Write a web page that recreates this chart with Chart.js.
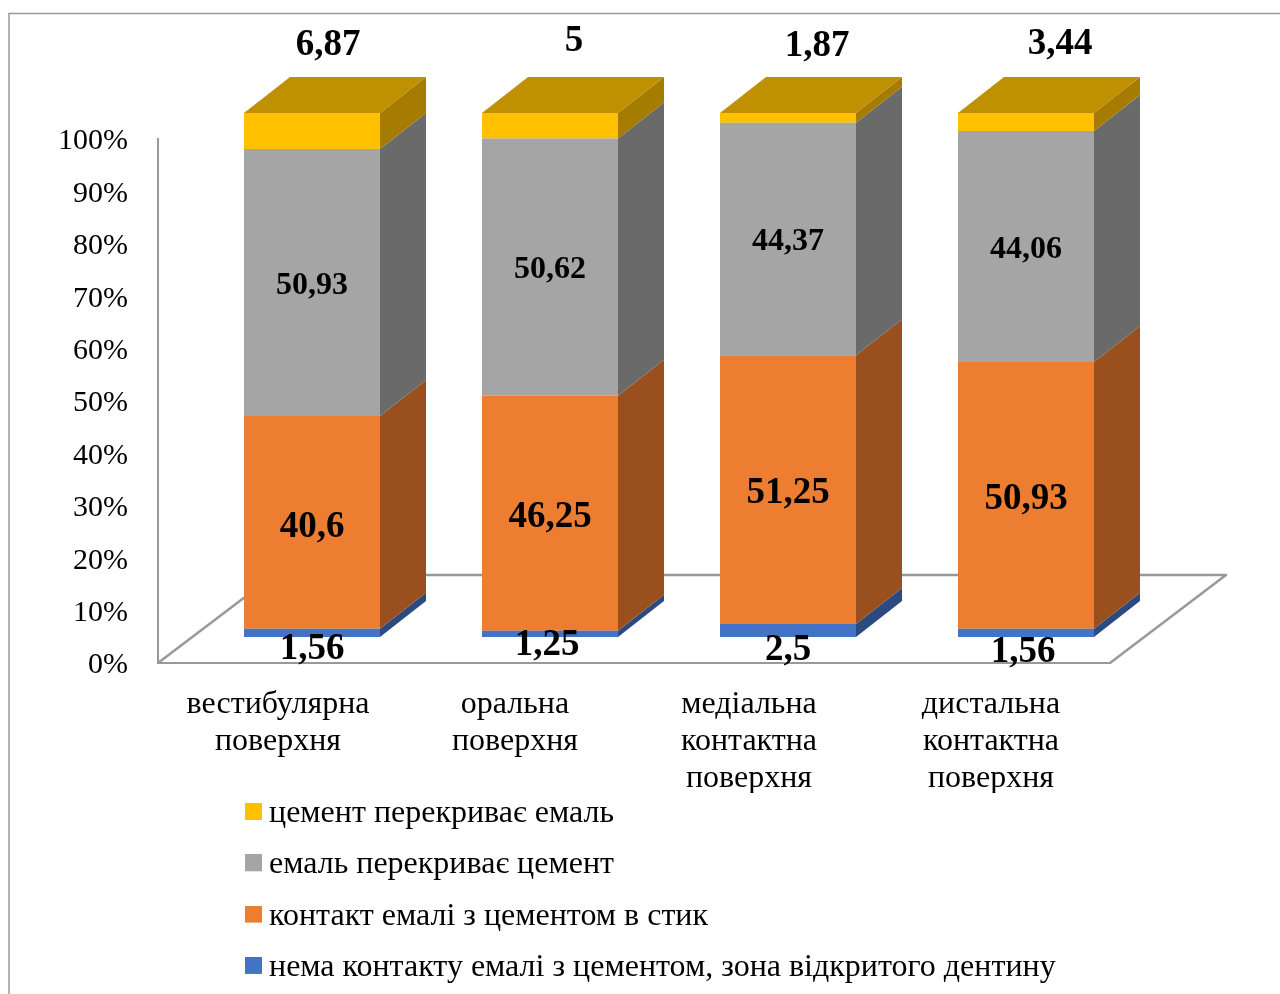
<!DOCTYPE html>
<html lang="uk">
<head>
<meta charset="utf-8">
<title>Chart</title>
<style>html,body{margin:0;padding:0;background:#fff}canvas{display:block}</style>
<script src="https://cdn.jsdelivr.net/npm/chart.js@4/dist/chart.umd.js"></script>
</head>
<body>
<canvas id="c" width="1280" height="994"></canvas>
<script>
const categories = [
  ['вестибулярна', 'поверхня'],
  ['оральна', 'поверхня'],
  ['медіальна', 'контактна', 'поверхня'],
  ['дистальна', 'контактна', 'поверхня']
];
const seriesNames = [
  'нема контакту емалі з цементом, зона відкритого дентину',
  'контакт емалі з цементом в стик',
  'емаль перекриває цемент',
  'цемент перекриває емаль'
];
const noContact = [1.56, 1.25, 2.5, 1.56];
const buttJoint = [40.6, 46.25, 51.25, 50.93];
const enamelOver = [50.93, 50.62, 44.37, 44.06];
const cementOver = [6.87, 5, 1.87, 3.44];
const rawSeries = [noContact, buttJoint, enamelOver, cementOver];

const frontColors = ['#4472C4', '#ED7D31', '#A5A5A5', '#FFC000'];
const sideColors = ['#2A4A80', '#9A501E', '#6A6A6A', '#A67C00'];
const topColor = '#BF9000';
const axisColor = '#999999';
const FONT = '"Liberation Serif", "Times New Roman", serif';

// 3D projection of the picture
const barShift = { x: 35, y: -26 };
const depth = { x: 46, y: -36 };
const floorDepth = { x: 116, y: -88 };
// label offsets from the centre of each segment
const labelSizes = [37, 37, 32, 37];
const labelNudges = [
  [[0, 17], [-3, 12], [0, 20], [-3, 20]],
  [[0, 5], [0, 4], [0, 4], [0, 4]],
  [[0, 3], [0, 3], [0, 3], [0, 3]],
  [[16, -86], [24, -84], [29, -71], [34, -78]]
];
const yLabelDrop = 2.5;
const xLabelShift = [1, 0, -4, 0];

const totals = categories.map((_, i) => rawSeries.reduce((s, a) => s + a[i], 0));
const fmt = v => String(v).replace('.', ',');

function swatch(color) {
  const cv = document.createElement('canvas');
  cv.width = 26; cv.height = 21;
  const g = cv.getContext('2d');
  g.fillStyle = color;
  g.fillRect(9, 0, 17, 17);
  return cv;
}

function poly(ctx, pts, fill) {
  ctx.beginPath();
  pts.forEach((p, i) => i ? ctx.lineTo(p[0], p[1]) : ctx.moveTo(p[0], p[1]));
  ctx.closePath();
  ctx.fillStyle = fill;
  ctx.fill();
}

function nudgeLabels(scale, fn) {
  const orig = scale._computeLabelItems;
  scale._computeLabelItems = function (area) {
    const items = orig.call(this, area);
    items.forEach((it, i) => fn(it.options.translation, i));
    return items;
  };
}

const scene3d = {
  id: 'scene3d',
  afterLayout(chart) {
    const lg = chart.legend;
    lg.left = 225.7; lg.right = 1280; lg.top = 778.2; lg.bottom = 1100;
    lg.width = lg.right - lg.left; lg.height = lg.bottom - lg.top;
    if (!chart.$nudged) {
      chart.$nudged = true;
      nudgeLabels(chart.scales.y, t => { t[1] += yLabelDrop; });
      nudgeLabels(chart.scales.x, (t, i) => { t[0] += xLabelShift[i]; });
    }
  },
  beforeDraw(chart) {
    const { ctx } = chart;
    ctx.save();
    ctx.strokeStyle = '#9A9A9A';
    ctx.lineWidth = 1.5;
    ctx.beginPath();
    ctx.moveTo(9, 994); ctx.lineTo(9, 13.5); ctx.lineTo(1280, 13.5);
    ctx.stroke();
    ctx.restore();
  },
  beforeDatasetsDraw(chart) {
    const { ctx, chartArea: a } = chart;
    ctx.save();
    ctx.strokeStyle = axisColor;
    ctx.lineWidth = 2.5;
    ctx.lineJoin = 'round';
    ctx.beginPath();
    ctx.moveTo(a.left, a.bottom);
    ctx.lineTo(a.left + floorDepth.x, a.bottom + floorDepth.y);
    ctx.lineTo(a.right + floorDepth.x, a.bottom + floorDepth.y);
    ctx.lineTo(a.right, a.bottom);
    ctx.stroke();
    ctx.restore();
    ctx.save();
    ctx.translate(barShift.x, barShift.y);
    chart.data.datasets.forEach((ds, d) => {
      chart.getDatasetMeta(d).data.forEach(el => {
        const { x, y, base, width } = el.getProps(['x', 'y', 'base', 'width'], true);
        const r = x + width / 2, l = x - width / 2;
        poly(ctx, [[r, y], [r + depth.x, y + depth.y], [r + depth.x, base + depth.y], [r, base]], sideColors[d]);
        if (d === chart.data.datasets.length - 1) {
          poly(ctx, [[l, y], [l + depth.x, y + depth.y], [r + depth.x, y + depth.y], [r, y]], topColor);
        }
      });
    });
  },
  afterDatasetsDraw(chart) {
    const { ctx } = chart;
    ctx.restore();
    ctx.save();
    ctx.fillStyle = '#000';
    ctx.textAlign = 'center';
    ctx.textBaseline = 'middle';
    chart.data.datasets.forEach((ds, d) => {
      ctx.font = 'bold ' + labelSizes[d] + 'px ' + FONT;
      chart.getDatasetMeta(d).data.forEach((el, i) => {
        const { x, y, base } = el.getProps(['x', 'y', 'base'], true);
        const n = labelNudges[d][i];
        ctx.fillText(fmt(rawSeries[d][i]), x + barShift.x + n[0], (y + base) / 2 + barShift.y + n[1]);
      });
    });
    ctx.restore();
  }
};

new Chart(document.getElementById('c'), {
  type: 'bar',
  data: {
    labels: categories,
    datasets: seriesNames.map((name, d) => ({
      label: name,
      data: rawSeries[d].map((v, i) => v / totals[i] * 100),
      backgroundColor: frontColors[d],
      borderWidth: 0,
      barPercentage: 1,
      categoryPercentage: 136 / 238
    }))
  },
  options: {
    responsive: false,
    animation: false,
    layout: { padding: { left: 58, right: 170, top: 139, bottom: 201 } },
    plugins: {
      tooltip: { enabled: false },
      title: { display: false },
      legend: {
        position: 'chartArea',
        align: 'start',
        labels: {
          usePointStyle: true,
          pointStyleWidth: 8,
          boxHeight: 17,
          padding: 19.3,
          color: '#000',
          font: { family: FONT, size: 32 },
          generateLabels: chart => chart.data.datasets.map((ds, d) => ({
            text: ds.label,
            fillStyle: frontColors[d],
            strokeStyle: frontColors[d],
            lineWidth: 0,
            pointStyle: swatch(frontColors[d]),
            datasetIndex: d,
            hidden: false
          })).reverse()
        }
      }
    },
    scales: {
      x: {
        stacked: true,
        afterFit: s => { s.height = 130; },
        grid: { display: false, drawTicks: false },
        border: { display: true, color: axisColor, width: 2 },
        ticks: {
          padding: 23,
          maxRotation: 0,
          autoSkip: false,
          color: '#000',
          font: { family: FONT, size: 32, lineHeight: 37 / 32 }
        }
      },
      y: {
        stacked: true,
        min: 0,
        max: 100,
        afterFit: s => { s.width = 100; },
        grid: { display: false, drawTicks: false },
        border: { display: true, color: axisColor, width: 2 },
        ticks: {
          stepSize: 10,
          padding: 30,
          color: '#000',
          font: { family: FONT, size: 30 },
          callback: v => v + '%'
        }
      }
    }
  },
  plugins: [scene3d]
});
</script>
</body>
</html>
